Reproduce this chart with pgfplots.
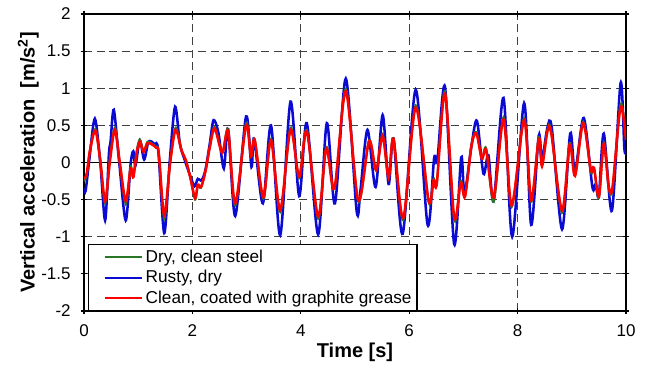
\documentclass[border=0pt]{standalone}
\usepackage{pgfplots}
\pgfplotsset{compat=1.18}
\usepackage{fontspec}
\setmainfont{Liberation Sans}
\definecolor{cblue}{RGB}{10,10,210}
\definecolor{cred}{RGB}{255,0,0}
\definecolor{cgreen}{RGB}{40,120,40}
\begin{document}
\begin{tikzpicture}
\begin{axis}[
  scale only axis,
  width=406.5pt, height=222.75pt,
  xmin=0, xmax=10, ymin=-2, ymax=2,
  xtick={0,2,...,10},
  ytick={-2,-1.5,...,2},
  yticklabels={-2,-1.5,-1,-0.5,0,0.5,1,1.5,2},
  /pgf/number format/assume math mode=true,
  tick label style={font=\fontsize{12.75}{14}\selectfont},
  xticklabel style={yshift=-4pt},
  yticklabel style={xshift=-4pt},
  axis line style={line width=1.1pt},
  tick style={black, line width=0.8pt},
  major tick length=5pt,
  tick align=center,
  xmajorgrids, ymajorgrids,
  grid style={black!75, line width=0.75pt, dash pattern=on 6pt off 3.5pt},
  extra y ticks={0},
  extra y tick labels={},
  extra y tick style={grid style={solid, black, line width=0.75pt}},
  xlabel={\textbf{Time [s]}},
  ylabel={\textbf{Vertical acceleration\ \ [m/s\textsuperscript{2}]}},
  label style={font=\fontsize{15}{18}\selectfont},
  xlabel style={yshift=2pt},
  ylabel style={yshift=-10pt},
  legend style={at={(rel axis cs:0.0074,0.2256)}, anchor=north west,
    draw=black, line width=1.1pt, font=\fontsize{12.9}{15}\selectfont,
    inner sep=2pt, row sep=0.5pt},
  legend cell align=left,
  legend image code/.code={\path (0pt,0pt); \draw[#1, line width=1.6pt] (9pt,0pt) -- (37pt,0pt);},
]
% blue drawn first (underneath)
\addplot[cblue, line width=1.9pt, smooth, forget plot] coordinates {
(0.00,-0.35) (0.03,-0.38) (0.10,0.05) (0.20,0.59) (0.30,0.0) (0.39,-0.78)
(0.46,0.12) (0.49,0.28) (0.55,0.71) (0.65,0.0) (0.77,-0.78) (0.86,-0.02)
(0.91,0.15) (0.95,-0.04) (1.03,0.30) (1.11,0.04) (1.19,0.28) (1.30,0.25)
(1.37,0.16) (1.48,-0.95) (1.58,0.0) (1.68,0.75) (1.77,0.25) (1.86,0.03)
(1.96,-0.18) (2.04,-0.32) (2.10,-0.22) (2.17,-0.24) (2.24,-0.10) (2.32,0.25)
(2.39,0.57) (2.48,0.40) (2.58,-0.08) (2.66,0.45) (2.79,-0.72) (2.99,0.62)
(3.09,-0.06) (3.14,0.32) (3.30,-0.55) (3.45,0.50) (3.62,-0.98) (3.81,0.82)
(3.97,-0.45) (4.11,0.53) (4.32,-0.97) (4.48,0.53) (4.63,-0.55) (4.83,1.13)
(5.03,-0.65) (5.10,-0.38) (5.23,0.44) (5.38,-0.33) (5.51,0.64) (5.62,-0.29)
(5.71,0.32) (5.88,-0.96) (6.12,0.98) (6.34,-0.84) (6.46,0.06) (6.52,0.03)
(6.66,1.02) (6.83,-1.10) (6.96,0.07) (7.02,-0.42) (7.15,0.23) (7.25,0.56)
(7.37,-0.15) (7.46,0.10) (7.56,-0.51) (7.74,0.87) (7.90,-1.00) (8.12,0.80)
(8.25,-0.84) (8.39,0.36) (8.45,0.04) (8.55,0.47) (8.63,0.47) (8.82,-0.90)
(8.97,0.39) (9.06,-0.12) (9.22,0.60) (9.38,-0.33) (9.44,-0.29) (9.50,-0.45)
(9.59,0.39) (9.74,-0.65) (9.90,1.07) (9.97,0.19) (10.0,0.15)
};
\addplot[cgreen, line width=1.5pt, smooth] coordinates {
(0.00,-0.25) (0.05,-0.17) (0.11,0.17) (0.21,0.45) (0.30,0.03) (0.39,-0.55)
(0.48,0.05) (0.57,0.47) (0.66,0.0) (0.77,-0.56) (0.86,-0.06) (0.91,-0.18)
(0.97,0.15) (1.03,0.31) (1.10,0.15) (1.17,0.28) (1.26,0.25) (1.33,0.21)
(1.38,0.13) (1.48,-0.76) (1.59,0.0) (1.69,0.47) (1.80,0.17) (1.88,0.03)
(1.96,-0.20) (2.05,-0.50) (2.10,-0.31) (2.16,-0.34) (2.24,-0.12) (2.32,0.21)
(2.41,0.48) (2.55,0.14) (2.66,0.44) (2.79,-0.58) (2.99,0.53) (3.08,0.08)
(3.15,0.31) (3.31,-0.49) (3.45,0.32) (3.62,-0.67) (3.81,0.47) (3.97,-0.21)
(4.11,0.44) (4.32,-0.76) (4.47,0.21) (4.62,-0.36) (4.83,0.99) (5.06,-0.53)
(5.26,0.30) (5.39,-0.11) (5.51,0.38) (5.62,-0.21) (5.71,0.33) (5.89,-0.78)
(6.12,0.77) (6.36,-0.54) (6.45,-0.22) (6.51,-0.26) (6.66,0.96) (6.83,-0.77)
(6.95,-0.25) (7.03,-0.45) (7.15,0.24) (7.24,0.41) (7.34,0.06) (7.42,0.19)
(7.56,-0.53) (7.74,0.61) (7.89,-0.60) (8.12,0.60) (8.25,-0.53) (8.39,0.34)
(8.45,-0.03) (8.55,0.44) (8.62,0.42) (8.82,-0.68) (8.96,0.26) (9.06,-0.17)
(9.21,0.55) (9.35,-0.12) (9.41,-0.09) (9.50,-0.48) (9.59,0.27) (9.68,-0.33)
(9.75,-0.36) (9.90,0.79) (10.0,0.31)
};
\addlegendentry{Dry, clean steel}
\addlegendimage{cblue}
\addlegendentry{Rusty, dry}
\addplot[cred, line width=1.9pt, smooth] coordinates {
(0.00,-0.22) (0.05,-0.15) (0.11,0.16) (0.21,0.43) (0.30,0.03) (0.39,-0.52)
(0.48,0.03) (0.57,0.44) (0.66,0.0) (0.77,-0.52) (0.86,-0.08) (0.91,-0.20)
(0.97,0.12) (1.03,0.28) (1.10,0.14) (1.17,0.26) (1.26,0.24) (1.33,0.20)
(1.38,0.12) (1.48,-0.71) (1.59,0.0) (1.69,0.44) (1.80,0.16) (1.88,0.03)
(1.96,-0.20) (2.05,-0.48) (2.10,-0.30) (2.16,-0.33) (2.24,-0.12) (2.32,0.20)
(2.41,0.46) (2.55,0.13) (2.66,0.42) (2.79,-0.55) (2.99,0.50) (3.08,0.08)
(3.15,0.30) (3.31,-0.47) (3.45,0.30) (3.62,-0.64) (3.81,0.44) (3.97,-0.19)
(4.11,0.42) (4.32,-0.73) (4.47,0.19) (4.62,-0.35) (4.83,0.96) (5.06,-0.51)
(5.26,0.29) (5.39,-0.10) (5.51,0.36) (5.62,-0.20) (5.71,0.32) (5.89,-0.75)
(6.12,0.74) (6.36,-0.52) (6.45,-0.24) (6.51,-0.28) (6.66,0.93) (6.83,-0.74)
(6.95,-0.27) (7.03,-0.46) (7.15,0.23) (7.24,0.39) (7.34,0.05) (7.42,0.17)
(7.56,-0.47) (7.74,0.58) (7.89,-0.58) (8.12,0.57) (8.25,-0.51) (8.39,0.32)
(8.45,-0.05) (8.55,0.42) (8.62,0.40) (8.82,-0.65) (8.96,0.24) (9.06,-0.18)
(9.21,0.53) (9.35,-0.10) (9.41,-0.07) (9.50,-0.46) (9.59,0.25) (9.68,-0.32)
(9.75,-0.34) (9.90,0.75) (10.0,0.30)
};
\addlegendentry{Clean, coated with graphite grease}
\end{axis}
\pgfresetboundingbox
\path (current axis.south west) ++(-63pt,-47.25pt) coordinate (bbA);
\path (current axis.north east) ++(15pt,10.5pt) coordinate (bbB);
\useasboundingbox (bbA) rectangle (bbB);
\end{tikzpicture}
\end{document}
